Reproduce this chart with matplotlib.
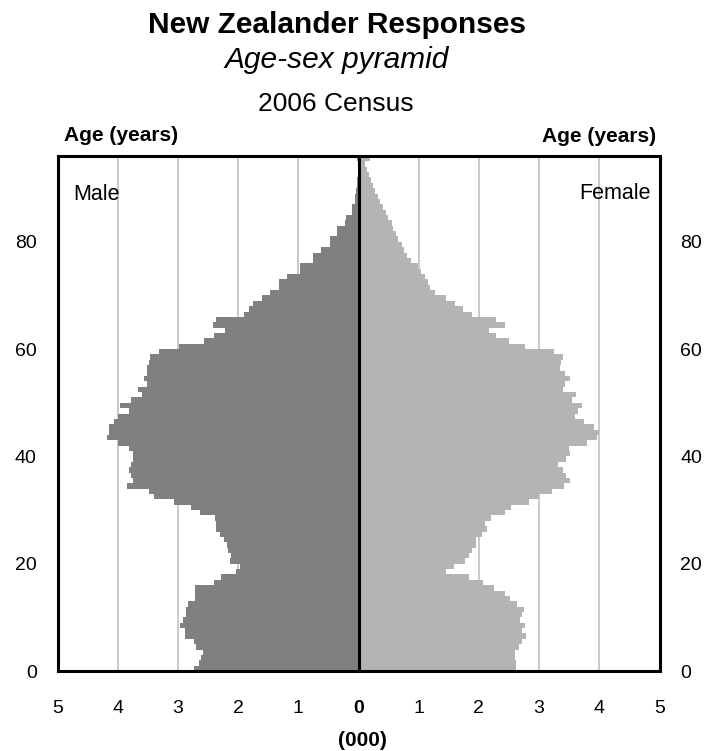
import numpy as np
import matplotlib
matplotlib.use("Agg")
import matplotlib.pyplot as plt
from matplotlib.transforms import ScaledTranslation

plt.rcParams['font.family'] = ['Liberation Sans', 'DejaVu Sans']

# single-year ages, 0 .. 95 (last bar 95+)
ages = np.arange(0, 96)

# population in thousands
male = [2.74, 2.65, 2.62, 2.58, 2.70, 2.74, 2.88, 2.88, 2.97, 2.91,
        2.87, 2.87, 2.83, 2.71, 2.71, 2.71, 2.40, 2.28, 2.03, 1.97,
        2.13, 2.12, 2.16, 2.19, 2.23, 2.30, 2.36, 2.36, 2.38, 2.63,
        2.78, 3.06, 3.40, 3.48, 3.84, 3.74, 3.78, 3.82, 3.78, 3.74,
        3.74, 3.81, 4.00, 4.18, 4.14, 4.14, 4.06, 3.99, 3.81, 3.96,
        3.78, 3.59, 3.67, 3.51, 3.56, 3.51, 3.51, 3.48, 3.46, 3.31,
        2.99, 2.57, 2.40, 2.22, 2.41, 2.37, 1.90, 1.82, 1.75, 1.61,
        1.47, 1.32, 1.32, 1.19, 0.98, 0.98, 0.75, 0.75, 0.63, 0.48,
        0.48, 0.36, 0.36, 0.22, 0.20, 0.11, 0.11, 0.06, 0.06, 0.04,
        0.02, 0.02, 0.01, 0.01, 0.01, 0.02]

female = [2.61, 2.61, 2.60, 2.60, 2.67, 2.71, 2.78, 2.71, 2.76, 2.69,
          2.71, 2.75, 2.64, 2.52, 2.43, 2.25, 2.06, 1.84, 1.46, 1.59,
          1.77, 1.84, 1.88, 1.95, 1.95, 2.05, 2.13, 2.10, 2.20, 2.43,
          2.53, 2.83, 3.00, 3.21, 3.41, 3.51, 3.45, 3.39, 3.32, 3.45,
          3.52, 3.50, 3.79, 3.96, 4.00, 3.91, 3.75, 3.60, 3.65, 3.72,
          3.54, 3.62, 3.39, 3.43, 3.51, 3.43, 3.35, 3.37, 3.39, 3.25,
          2.77, 2.50, 2.28, 2.17, 2.43, 2.28, 1.88, 1.74, 1.60, 1.46,
          1.27, 1.19, 1.16, 1.10, 1.03, 0.99, 0.88, 0.80, 0.76, 0.72,
          0.66, 0.63, 0.58, 0.55, 0.49, 0.45, 0.40, 0.36, 0.32, 0.28,
          0.24, 0.20, 0.17, 0.14, 0.11, 0.19]

xticks = [-5, -4, -3, -2, -1, 0, 1, 2, 3, 4, 5]
xticklabels = ['5', '4', '3', '2', '1', '0', '1', '2', '3', '4', '5']
yticks = [0, 20, 40, 60, 80]

W, H = 707, 751
fig = plt.figure(figsize=(W / 100, H / 100), dpi=100)
ax = fig.add_axes([57.5 / W, 1 - 671 / H, (659.5 - 57.5) / W, (671 - 156) / H])

# one filled step outline per sex: single-year bars without seams between them
edges = np.append(ages, ages[-1] + 1)
ax.stairs(-np.array(male), edges, orientation='horizontal', baseline=0,
          fill=True, color='#808080', lw=0, zorder=2)
ax.stairs(np.array(female), edges, orientation='horizontal', baseline=0,
          fill=True, color='#b3b3b3', lw=0, zorder=2)

for g in [-4, -3, -2, -1, 1, 2, 3, 4]:
    ax.axvline(g, color='#c0c0c0', lw=1.2, zorder=1)
ax.axvline(0, color='black', lw=2.2, zorder=3)

ax.set_xlim(-5, 5)
ax.set_ylim(0, 96)
ax.set_xticks(xticks)
ax.set_xticklabels(xticklabels, fontsize=14)
ax.get_xticklabels()[5].set_fontweight('bold')
# left-side numbers sit a few pixels right of their gridlines in the original
shift = ScaledTranslation(4 / 100, 0, fig.dpi_scale_trans)
for lab in ax.get_xticklabels()[:5]:
    lab.set_transform(lab.get_transform() + shift)
ax.set_yticks(yticks)
ax.set_yticklabels([str(t) for t in yticks], fontsize=14)
ax.tick_params(axis='x', length=0, pad=21)
ax.tick_params(axis='y', length=0, pad=15, labelright=True)
for sp in ax.spines.values():
    sp.set_linewidth(2.2)
    sp.set_zorder(4)

ax.text(73 / W, 1 - 200 / H, 'Male', transform=fig.transFigure,
        fontsize=15.5, ha='left', va='baseline')
ax.text(651 / W, 1 - 199 / H, 'Female', transform=fig.transFigure,
        fontsize=15.5, ha='right', va='baseline')

fig.text(337 / W, 1 - 33 / H, 'New Zealander Responses', fontsize=21.5,
         fontweight='bold', ha='center', va='baseline')
fig.text(337 / W, 1 - 68 / H, 'Age-sex pyramid', fontsize=21.5,
         fontstyle='italic', ha='center', va='baseline')
fig.text(336 / W, 1 - 111 / H, '2006 Census', fontsize=19,
         ha='center', va='baseline')
fig.text(121.5 / W, 1 - 141 / H, 'Age (years)', fontsize=15,
         fontweight='bold', ha='center', va='baseline')
fig.text(599 / W, 1 - 142 / H, 'Age (years)', fontsize=15,
         fontweight='bold', ha='center', va='baseline')
fig.text(362 / W, 1 - 741 / H, '(000)', fontsize=15,
         fontweight='bold', ha='center', va='center')

fig.savefig('out.png', dpi=100)
